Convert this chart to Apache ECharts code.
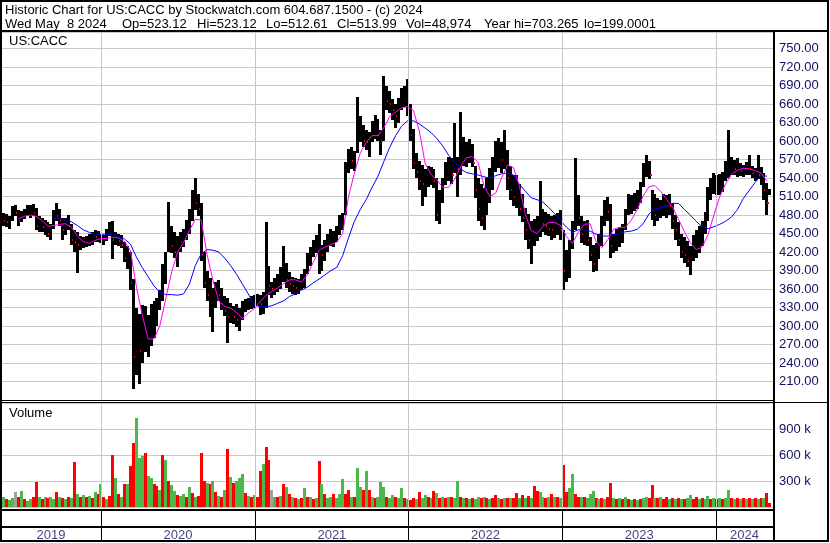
<!DOCTYPE html>
<html><head><meta charset="utf-8">
<script src="https://cdn.jsdelivr.net/npm/echarts@6/dist/echarts.min.js"></script>
<style>html,body{margin:0;padding:0;background:#fff}#c{width:830px;height:543px}</style>
</head><body><div id="c"></div>
<script>
// Weekly bars (Wednesday dates) from 2019-05-08 to 2024-05-08
const weekHigh = [490,484,482,478,494,496,488,486,490,497,
496,498,492,478,476,472,468,466,488,500,
490,475,476,480,466,456,452,446,444,446,
450,452,456,454,450,448,458,468,470,452,
450,448,436,430,420,376,330,320,334,332,
318,336,340,345,358,400,420,502,462,452,
446,452,458,472,490,520,540,515,500,420,
390,378,362,372,375,362,348,345,338,332,
336,330,340,344,345,348,350,352,
350,356,468,398,372,378,385,395,430,402,
388,380,378,376,385,392,418,428,440,448,
465,432,440,450,458,454,462,480,484,566,
588,590,584,672,640,626,618,614,632,642,
636,618,705,690,682,668,660,670,686,690,
700,660,620,580,568,562,555,560,558,555,
540,520,540,566,575,572,630,575,648,606,
598,604,596,560,540,530,524,540,556,575,
600,605,598,618,585,560,545,
545,530,515,492,482,470,474,478,535,490,
485,482,478,480,484,488,455,424,440,470,
572,512,478,470,472,445,432,435,450,478,
505,510,498,450,458,460,466,490,515,512,
516,520,534,565,578,568,520,514,508,505,
515,512,515,500,480,468,450,445,438,430,
448,456,462,470,485,525,540,548,545,546,
550,568,618,575,570,572,564,562,566,578,
560,556,578,558,548,532,523];
const weekLow = [466,462,460,457,470,478,463,468,474,478,
476,478,455,452,452,447,444,440,458,470,
462,440,448,455,432,420,386,424,426,428,
430,432,436,436,434,432,438,446,408,432,
430,426,404,392,358,198,220,206,240,258,
250,268,280,300,326,340,368,420,418,410,
395,420,428,440,450,470,488,478,405,362,
340,314,290,330,340,326,316,272,305,304,
298,292,310,322,326,328,330,332,
318,320,330,350,345,350,355,360,372,362,
356,352,350,352,358,362,385,398,412,418,
384,390,405,420,430,428,436,448,455,480,
548,555,552,580,598,590,585,575,598,604,
600,578,600,650,645,635,622,630,650,656,
640,600,555,540,520,494,510,525,528,524,
470,465,500,528,535,530,548,510,545,560,
558,565,558,508,470,462,455,480,500,520,
550,556,548,555,520,505,495,
492,478,468,440,425,400,430,438,445,452,
448,446,440,442,448,440,358,372,378,425,
455,462,435,432,430,405,388,390,408,430,
462,470,410,418,422,428,435,455,480,482,
486,490,500,525,542,538,472,462,470,475,
478,476,480,458,440,430,410,402,395,382,
405,410,418,430,450,470,505,515,512,512,
518,535,540,545,545,542,544,542,545,545,
540,535,538,528,505,480,512];
const weekClose = [478,470,468,472,488,484,470,480,486,488,
490,484,462,466,460,455,450,458,480,478,
470,455,468,462,440,436,432,436,438,440,
444,446,444,442,440,446,452,460,440,440,
438,432,410,414,370,250,280,260,290,300,
300,320,330,340,350,390,410,440,430,420,
435,440,450,468,484,510,500,490,415,370,
350,330,340,360,350,335,325,315,320,315,
310,322,335,336,338,340,342,345,
335,340,370,365,360,365,372,380,390,375,
368,365,362,365,375,385,410,420,430,440,
420,415,430,440,445,445,455,470,478,560,
570,568,575,610,612,600,598,605,620,625,
610,600,670,665,660,650,640,660,672,680,
650,610,565,550,535,530,540,545,540,535,
480,505,530,550,555,545,560,555,575,575,
580,585,565,520,490,475,490,520,540,560,
575,580,570,575,540,520,510,
510,490,475,455,440,445,450,460,470,465,
462,458,455,460,465,455,390,395,420,460,
490,475,450,450,440,415,400,420,435,465,
490,485,430,440,445,450,460,482,500,500,
505,512,525,555,560,545,490,480,490,495,
495,500,495,470,455,440,420,415,405,410,
430,440,445,460,475,515,525,530,530,535,
540,560,560,560,555,555,552,555,556,555,
548,550,545,535,520,500,514];
// Volume in thousands of shares (peak daily volume of each week)
const volume = [196,110,90,80,100,170,110,180,90,70,
90,120,285,110,90,110,100,120,95,175,
110,100,90,110,100,520,150,110,140,110,
130,100,170,150,260,120,90,130,600,330,
150,120,260,260,470,735,1030,560,590,620,
360,330,260,240,200,600,540,300,250,180,
140,130,150,120,230,160,120,130,620,300,
280,260,300,170,130,120,200,670,350,280,
300,330,380,160,130,110,140,120,410,500,
690,540,200,120,110,130,260,230,150,120,
100,90,100,215,110,120,90,100,530,262,
150,100,110,150,100,150,323,150,195,110,
120,454,235,195,415,195,120,100,110,285,
235,110,100,140,120,100,215,100,90,80,
100,90,170,100,140,110,100,185,160,100,
115,105,110,115,105,300,120,105,100,95,
100,95,120,100,120,100,95,100,140,100,
95,100,105,100,105,158,105,140,105,130,
105,246,180,175,110,105,110,150,110,115,
100,485,170,215,380,150,120,110,120,105,
146,185,105,95,105,95,120,273,105,95,
105,95,120,95,80,95,85,95,105,110,
105,254,105,100,110,95,110,95,105,95,
105,95,90,105,138,95,120,95,105,95,
127,95,105,90,105,95,105,196,105,95,
105,95,105,90,105,95,105,95,105,100,
165,49];
// r = down, g = up, x = unchanged
const volDir = "rgrggxrgrg" + "grrgrgrggr" + "grgrgrgrgr" + "grgrgrgrrg" + "rgrgrrgggr" +
  "ggrrgrgrgg" + "rggrgrgrrr" + "grgrgrgrgr" + "gggrgrgrrg" + "rrxgrgrgrg" +
  "rgrgrgrgrg" + "rggrgggrrg" + "rggrgrgrgg" + "grggrggrgr" + "rgrggrgrgr" +
  "grgrggrgrg" + "rggrgrgrrg" + "rgrgrrgrgr" + "grrggrgrgr" + "grrggrrgrg" +
  "ggrgrgrrgr" + "grgrgrgrgg" + "rrgrgrrgrg" + "rgrggrrgrg" + "grgrgrggrg" +
  "rgrgrgrgrg" + "rr";
// Moving averages, one value every 2 weeks
const maFast = [null,null,null,474,478,480,478,471,462,463,
465,466,460,446,437,434,439,442,442,444,
443,437,422,364,318,279,279,301,345,388,
420,435,455,473,472,416,374,340,332,329,
322,312,321,328,
339,350,356,362,369,375,375,371,383,403,
423,428,432,436,450,510,548,581,598,609,
609,622,640,647,654,656,650,617,564,546,
537,525,525,538,558,573,575,565,527,510,
516,541,561,
557,527,481,455,450,462,468,468,463,445,
434,452,465,466,437,427,440,457,460,460,
472,489,511,526,528,518,505,493,473,453,
435,424,428,448,480,510,531,546,553,556,
555,552,548,535];
const maSlow = [null,null,null,null,null,null,null,null,null,476,
474,471,469,463,456,452,449,449,449,448,
445,441,433,412,395,380,365,355,351,351,
350,352,368,398,417,424,423,420,410,398,
384,368,352,335,
331,331,333,337,341,348,352,358,363,370,
376,383,390,395,414,443,470,489,505,525,
543,567,590,609,624,633,633,628,621,614,
604,592,577,566,555,549,547,545,542,540,
544,547,548,
545,530,519,508,505,501,492,482,471,460,
452,456,457,454,449,446,446,448,450,453,
454,457,466,482,490,492,495,499,499,489,
480,470,461,458,461,465,470,477,489,507,
520,533,545,543];
const yearLabels = ['2019','2020','2021','2022','2023','2024'];

const DAY = 86400000;
const firstWeek = Date.UTC(2019, 4, 8);
const ts = i => firstWeek + i * 7 * DAY;
const tMin = firstWeek + 0.44 * DAY;
const tMax = tMin + 1834 * DAY;
const yearStarts = [2020, 2021, 2022, 2023, 2024].map(y => Date.UTC(y, 0, 1));
const bounds = [tMin].concat(yearStarts, [tMax]);
const yearMids = yearLabels.map((y, k) => [(bounds[k] + bounds[k + 1]) / 2, 0.17, y]);

const FONT = "'Liberation Sans', Arial, sans-serif";
const LBL = '#101060';
const GRIDC = '#c8c8c8';
const volColors = { r: '#ff0000', g: '#4cb84c', x: '#a0a0a0' };

const ohlcData = weekHigh.map((h, i) => [ts(i), h, weekLow[i], weekClose[i],
  (i > 0 && weekClose[i] < weekClose[i - 1]) ? 1 : 0]);
const volData = volume.map((v, i) => [ts(i), v * 1000, volDir[i] || 'r']);
const fastData = maFast.map((v, k) => [ts(2 * k), v]).filter(d => d[1] != null);
const slowData = maSlow.map((v, k) => [ts(2 * k), v]).filter(d => d[1] != null);

const xBase = { type: 'time', min: tMin, max: tMax, axisLabel: { show: false }, axisTick: { show: false },
  axisLine: { show: false }, splitLine: { show: false } };
const gridBase = { left: 1, width: 772, containLabel: false, outerBoundsMode: 'none' };

function vLines(color, width) {
  return { silent: true, symbol: 'none', label: { show: false }, animation: false,
    lineStyle: { color: color, width: width, type: 'solid' },
    emphasis: { disabled: true },
    data: yearStarts.map(t => ({ xAxis: t })) };
}

const chart = echarts.init(document.getElementById('c'), null, { renderer: 'canvas' });
const line2 = [
  ['Wed May  8 2024', 5], ['Op=523.12', 122], ['Hi=523.12', 197], ['Lo=512.61', 266],
  ['Cl=513.99', 337], ['Vol=48,974', 406], ['Year hi=703.265', 484], ['lo=199.0001', 584]
];
const txt = (t, x, y, color) => ({ type: 'text', x: x, y: y, z: 120, silent: true,
  style: { text: t, font: '13px ' + FONT, fill: color || '#000', verticalAlign: 'middle', align: 'left' } });
const bar = (x, y, w, h) => ({ type: 'rect', z: 110, silent: true, shape: { x: x, y: y, width: w, height: h }, style: { fill: '#000' } });

chart.setOption({
  animation: false,
  backgroundColor: '#fff',
  textStyle: { fontFamily: FONT },
  grid: [
    Object.assign({ top: 32, height: 368 }, gridBase),
    Object.assign({ top: 403, height: 104 }, gridBase),
    Object.assign({ top: 511, height: 29 }, gridBase)
  ],
  xAxis: [Object.assign({ gridIndex: 0 }, xBase), Object.assign({ gridIndex: 1 }, xBase), Object.assign({ gridIndex: 2 }, xBase)],
  yAxis: [
    { gridIndex: 0, type: 'value', position: 'right', min: 180, max: 777, interval: 30,
      axisLine: { show: false }, axisTick: { show: false },
      axisLabel: { show: true, margin: 6, color: LBL, fontSize: 13, fontFamily: FONT, showMinLabel: false, showMaxLabel: false,
        formatter: v => v.toFixed(2) },
      splitLine: { show: true, lineStyle: { color: GRIDC, width: 1 } } },
    { gridIndex: 1, type: 'value', position: 'right', min: 0, max: 1200000, interval: 300000,
      axisLine: { show: false }, axisTick: { show: false },
      axisLabel: { show: true, margin: 6, color: LBL, fontSize: 13, fontFamily: FONT, showMinLabel: false, showMaxLabel: false,
        formatter: v => (v / 1000) + ' k' },
      splitLine: { show: true, lineStyle: { color: GRIDC, width: 1 } } },
    { gridIndex: 2, type: 'value', min: 0, max: 1, show: false, splitLine: { show: false } }
  ],
  series: [
    { type: 'line', xAxisIndex: 0, yAxisIndex: 0, z: 1, silent: true, data: yearStarts.map(t => [t, 180]),
      showSymbol: false, lineStyle: { opacity: 0, width: 0 }, markLine: vLines(GRIDC, 1) },
    { type: 'line', xAxisIndex: 1, yAxisIndex: 1, z: 1, silent: true, data: yearStarts.map(t => [t, 0]),
      showSymbol: false, lineStyle: { opacity: 0, width: 0 }, markLine: vLines(GRIDC, 1) },
    { type: 'custom', xAxisIndex: 0, yAxisIndex: 0, z: 3, silent: true, clip: true, data: ohlcData,
      encode: { x: 0, y: [1, 2] },
      renderItem: function (params, api) {
        const t = api.value(0);
        const pH = api.coord([t, api.value(1)]);
        const pL = api.coord([t, api.value(2)]);
        const pC = api.coord([t, api.value(3)]);
        const x = Math.round(pH[0] - 1.5);
        const y0 = Math.round(pH[1]);
        const y1 = Math.round(pL[1]);
        const ch = [{ type: 'rect', shape: { x: x, y: y0, width: 3, height: Math.max(1, y1 - y0) }, style: { fill: '#000' } }];
        if (api.value(4)) ch.push({ type: 'rect', shape: { x: x + 2, y: Math.round(pC[1]) - 1, width: 2, height: 2 }, style: { fill: '#ff0000' } });
        return { type: 'group', children: ch };
      } },
    { type: 'line', xAxisIndex: 0, yAxisIndex: 0, z: 4, silent: true, data: slowData, showSymbol: false,
      lineStyle: { color: '#0000ff', width: 1 }, itemStyle: { color: '#0000ff' } },
    { type: 'line', xAxisIndex: 0, yAxisIndex: 0, z: 5, silent: true, data: fastData, showSymbol: false,
      lineStyle: { color: '#ff00ff', width: 1 }, itemStyle: { color: '#ff00ff' } },
    { type: 'custom', xAxisIndex: 1, yAxisIndex: 1, z: 3, silent: true, clip: true, data: volData,
      encode: { x: 0, y: 1 },
      renderItem: function (params, api) {
        const t = api.value(0);
        const p = api.coord([t, api.value(1)]);
        const b = api.coord([t, 0]);
        const x = Math.round(p[0] - 1.5);
        const y = Math.round(p[1]);
        return { type: 'rect', shape: { x: x, y: y, width: 3, height: Math.max(1, Math.round(b[1]) - y) },
          style: { fill: volColors[api.value(2)] || '#ff0000' } };
      } },
    { type: 'scatter', xAxisIndex: 2, yAxisIndex: 2, z: 5, silent: true, data: yearMids, symbolSize: 1,
      itemStyle: { color: 'transparent' },
      label: { show: true, position: 'inside', formatter: p => p.data[2], color: LBL, fontSize: 13, fontFamily: FONT },
      markLine: vLines('#000', 1) }
  ],
  graphic: [
    bar(0, 0, 829, 2),
    bar(0, 0, 2, 542),
    bar(827, 0, 2, 542),
    bar(0, 30, 829, 2),
    bar(773, 31, 2, 511),
    bar(0, 400, 773, 1),
    bar(0, 402, 829, 1),
    bar(0, 509, 775, 2),
    bar(0, 526, 775, 2),
    bar(0, 540, 829, 2),
    txt('Historic Chart for US:CACC by Stockwatch.com 604.687.1500 - (c) 2024', 5, 10.5),
    ...line2.map(d => txt(d[0], d[1], 24)),
    txt('US:CACC', 9, 41.5),
    txt('Volume', 9, 413)
  ]
});
</script></body></html>
